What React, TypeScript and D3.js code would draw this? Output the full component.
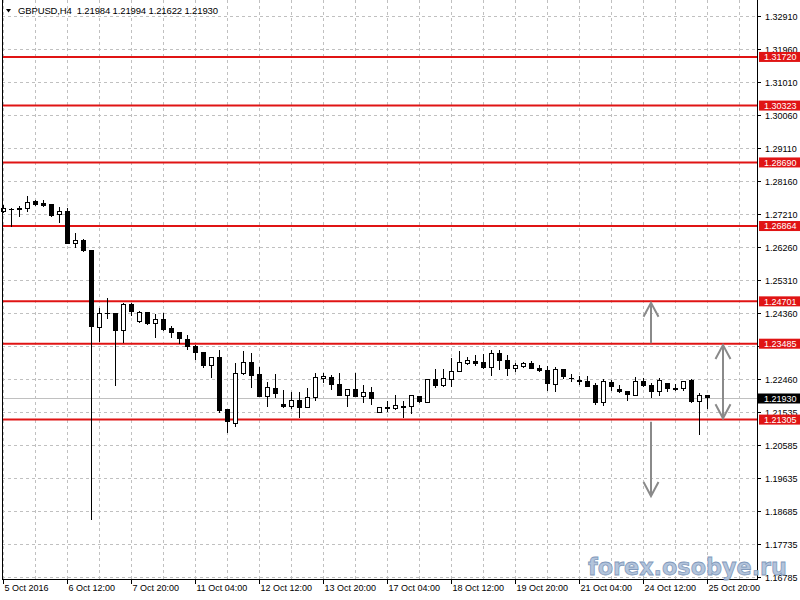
import React, { useRef, useEffect } from "react";
import * as d3 from "d3";

const width = 800;
const height = 600;
const plot = { left: 2, right: 757, bottom: 579 };
const font = "'Liberation Sans', Arial, sans-serif";

const title = "GBPUSD,H4  1.21984 1.21994 1.21622 1.21930";

// H4 bars from 5 Oct 2016 04:00 to 25 Oct 2016 20:00
const opens = [
  1.27275, 1.27353, 1.27373, 1.27373, 1.27562, 1.27516, 1.27496, 1.272, 1.27295, 1.26367,
  1.26462, 1.26175, 1.23964, 1.24366, 1.24366, 1.23857, 1.24616, 1.24116, 1.24374, 1.2407,
  1.24185, 1.23926, 1.238, 1.2361, 1.23398, 1.23237, 1.22852, 1.23093, 1.21609, 1.21198,
  1.22634, 1.2295, 1.22605, 1.21982, 1.22203, 1.21752, 1.21674, 1.21867, 1.21657, 1.21945,
  1.22491, 1.22519, 1.22327, 1.21991, 1.22174, 1.21982, 1.22088, 1.21522, 1.21666, 1.21629,
  1.21686, 1.21695, 1.21982, 1.21801, 1.22461, 1.22278, 1.22461, 1.2268, 1.2291, 1.22987,
  1.2295, 1.22795, 1.23208, 1.22996, 1.22777, 1.22843, 1.22921, 1.22777, 1.22709, 1.22327,
  1.22749, 1.2248, 1.22442, 1.22413, 1.22278, 1.21789, 1.22375, 1.22174, 1.22117, 1.2199,
  1.22413, 1.22298, 1.22117, 1.22347, 1.22186, 1.22192, 1.22421, 1.21818, 1.21984,
];
const highs = [
  1.27468, 1.27373, 1.27439, 1.27726, 1.27611, 1.27611, 1.275, 1.27419, 1.27373, 1.26672,
  1.26491, 1.2619, 1.24509, 1.24796, 1.2438, 1.24662, 1.24662, 1.24432, 1.24403, 1.24337,
  1.24357, 1.23992, 1.23805, 1.23734, 1.23447, 1.23246, 1.231, 1.23303, 1.2162, 1.22921,
  1.23274, 1.23208, 1.22823, 1.22375, 1.22605, 1.22154, 1.22088, 1.22106, 1.22203, 1.22634,
  1.22634, 1.22585, 1.22634, 1.2218, 1.22634, 1.22298, 1.22249, 1.21666, 1.21838, 1.22011,
  1.21838, 1.2201, 1.2199, 1.2247, 1.22749, 1.22749, 1.23065, 1.23283, 1.23111, 1.23159,
  1.23188, 1.23303, 1.23303, 1.23159, 1.22921, 1.2295, 1.22996, 1.22872, 1.22843, 1.22823,
  1.22755, 1.22614, 1.22565, 1.22565, 1.22347, 1.22461, 1.22442, 1.22298, 1.22125, 1.22519,
  1.2249, 1.22347, 1.2249, 1.22364, 1.22327, 1.2242, 1.22479, 1.22077, 1.21994,
];
const lows = [
  1.27229, 1.26844, 1.27114, 1.27266, 1.27447, 1.2741, 1.27131, 1.26959, 1.2636, 1.26224,
  1.26126, 1.18421, 1.23541, 1.24193, 1.22269, 1.23513, 1.2428, 1.24087, 1.24021, 1.23639,
  1.23857, 1.23639, 1.23467, 1.23303, 1.23007, 1.22795, 1.22507, 1.21503, 1.20911, 1.21101,
  1.22585, 1.22203, 1.21955, 1.21674, 1.21916, 1.21629, 1.21609, 1.21359, 1.21629, 1.21847,
  1.22364, 1.22154, 1.21985, 1.21674, 1.21955, 1.21772, 1.21723, 1.21513, 1.21522, 1.2158,
  1.21359, 1.21456, 1.21772, 1.21772, 1.22203, 1.22232, 1.22249, 1.22675, 1.22872, 1.22852,
  1.22749, 1.22565, 1.22729, 1.22565, 1.2268, 1.22777, 1.22749, 1.2268, 1.22134, 1.22105,
  1.22461, 1.22393, 1.22298, 1.22249, 1.21723, 1.21695, 1.22134, 1.22077, 1.21838, 1.21982,
  1.22232, 1.21933, 1.21982, 1.22105, 1.22134, 1.22134, 1.21772, 1.20862, 1.21622,
];
const closes = [
  1.27373, 1.27343, 1.2738, 1.27533, 1.27488, 1.27447, 1.2718, 1.27275, 1.26367, 1.26462,
  1.26175, 1.23972, 1.24366, 1.2436, 1.23857, 1.24624, 1.24403, 1.24374, 1.2407, 1.24185,
  1.23898, 1.238, 1.23639, 1.23398, 1.23225, 1.22852, 1.23093, 1.2158, 1.21244, 1.22634,
  1.2295, 1.22565, 1.21962, 1.22232, 1.22059, 1.21674, 1.21867, 1.21657, 1.21945, 1.22519,
  1.22556, 1.22318, 1.21991, 1.22174, 1.21962, 1.22088, 1.21916, 1.21657, 1.21617, 1.21715,
  1.21692, 1.22002, 1.21818, 1.22461, 1.22278, 1.2249, 1.227, 1.2295, 1.22996, 1.2293,
  1.22795, 1.23208, 1.22996, 1.22777, 1.22872, 1.22921, 1.22777, 1.22709, 1.22347, 1.22749,
  1.22548, 1.22478, 1.22413, 1.22269, 1.21789, 1.22393, 1.22269, 1.22117, 1.22031, 1.22413,
  1.22278, 1.22105, 1.22421, 1.22192, 1.2218, 1.22413, 1.21818, 1.22002, 1.2193,
];

// one label every 8 bars
const dateLabels = [
  "5 Oct 2016", "6 Oct 12:00", "7 Oct 20:00", "11 Oct 04:00", "12 Oct 12:00", "13 Oct 20:00",
  "17 Oct 04:00", "18 Oct 12:00", "19 Oct 20:00", "21 Oct 04:00", "24 Oct 12:00", "25 Oct 20:00",
];

const priceTicks = [
  "1.32910", "1.31960", "1.31010", "1.30060", "1.29110", "1.28160", "1.27210", "1.26260",
  "1.25310", "1.24360", "1.23410", "1.22460", "1.21535", "1.20585", "1.19635", "1.18685",
  "1.17735", "1.16785",
];

const levels = [1.3172, 1.30323, 1.2869, 1.26864, 1.24701, 1.23485, 1.21305];
const levelLabels = ["1.31720", "1.30323", "1.28690", "1.26864", "1.24701", "1.23485", "1.21305"];
const bid = 1.2193;

// gray arrows drawn on the chart: bar, from price, to price, head at start too
const arrowBars = [81, 90, 81];
const arrowFrom = [1.23495, 1.21342, 1.21244];
const arrowTo = [1.2466, 1.23447, 1.1911];
const arrowBoth = [false, true, false];

const App: React.FC = () => {
  const svgRef = useRef<SVGSVGElement | null>(null);

  useEffect(() => {
    if (!svgRef.current) return;
    const svg = d3.select(svgRef.current);
    svg.selectAll("*").remove();

    const n = opens.length;
    const x = d3.scaleLinear().domain([0, n - 1]).range([3.5, 3.5 + (n - 1) * 8]);
    const y = d3.scaleLinear().domain([1.16785, 1.3291]).range([577, 15.5]);

    svg.append("rect").attr("width", width).attr("height", height).attr("fill", "#fff");

    // grid
    const grid = svg.append("g").attr("stroke", "#c0c0c0").attr("stroke-dasharray", "3,3")
      .attr("shape-rendering", "crispEdges");
    for (let i = 0; i < n + 6; i += 4) {
      const gx = x(i);
      if (gx >= plot.right) break;
      grid.append("line").attr("x1", gx).attr("x2", gx).attr("y1", 0).attr("y2", plot.bottom);
    }
    priceTicks.forEach((t) => {
      const gy = Math.round(y(+t)) + 0.5;
      grid.append("line").attr("x1", plot.left).attr("x2", plot.right).attr("y1", gy).attr("y2", gy);
    });

    // bid line
    const by = Math.round(y(bid)) + 0.5;
    svg.append("line").attr("x1", plot.left).attr("x2", plot.right).attr("y1", by).attr("y2", by)
      .attr("stroke", "#c0c0c0").attr("shape-rendering", "crispEdges");

    // support / resistance lines
    levels.forEach((v) => {
      svg.append("line").attr("x1", plot.left).attr("x2", plot.right)
        .attr("y1", y(v)).attr("y2", y(v))
        .attr("stroke", "#e01414").attr("stroke-width", 2);
    });

    // candles
    const bars = svg.append("g").attr("shape-rendering", "crispEdges");
    d3.range(n).forEach((i) => {
      const cx = x(i);
      bars.append("line").attr("x1", cx).attr("x2", cx)
        .attr("y1", y(highs[i])).attr("y2", y(lows[i])).attr("stroke", "#000");
      const top = y(Math.max(opens[i], closes[i]));
      const bot = y(Math.min(opens[i], closes[i]));
      if (closes[i] >= opens[i]) {
        bars.append("rect").attr("x", cx - 2).attr("y", top)
          .attr("width", 4).attr("height", Math.max(bot - top, 1))
          .attr("fill", "#fff").attr("stroke", "#000");
      } else {
        bars.append("rect").attr("x", cx - 2.5).attr("y", top - 0.5)
          .attr("width", 5).attr("height", Math.max(bot - top + 1, 1))
          .attr("fill", "#000");
      }
    });

    // arrows
    const arrows = svg.append("g").attr("stroke", "#8a8a8a").attr("stroke-width", 2)
      .attr("fill", "none");
    arrowBars.forEach((b, k) => {
      const ax = x(b) - 0.5;
      const y0 = y(arrowFrom[k]);
      const y1 = y(arrowTo[k]);
      arrows.append("line").attr("x1", ax).attr("x2", ax).attr("y1", y0).attr("y2", y1);
      const head = (tip: number, dir: number) => {
        arrows.append("path")
          .attr("d", `M${ax - 7.5},${tip - dir * 14}L${ax},${tip}L${ax + 7.5},${tip - dir * 14}`);
      };
      head(y1, y1 > y0 ? 1 : -1);
      if (arrowBoth[k]) head(y0, y0 > y1 ? 1 : -1);
    });

    // frame + axes
    const frame = svg.append("g").attr("stroke", "#000").attr("shape-rendering", "crispEdges");
    frame.append("line").attr("x1", 2.5).attr("x2", 2.5).attr("y1", 0).attr("y2", plot.bottom + 0.5);
    frame.append("line").attr("x1", plot.right + 0.5).attr("x2", plot.right + 0.5)
      .attr("y1", 0).attr("y2", plot.bottom + 0.5);
    frame.append("line").attr("x1", plot.left).attr("x2", plot.right + 1)
      .attr("y1", plot.bottom + 0.5).attr("y2", plot.bottom + 0.5);

    const tagYs = levels.map((v) => y(v)).concat([by]);
    const yAxis = svg.append("g").attr("font-family", font).attr("font-size", 9);
    priceTicks.forEach((t) => {
      const ty = Math.round(y(+t)) + 0.5;
      frame.append("line").attr("x1", plot.right).attr("x2", plot.right + 4).attr("y1", ty).attr("y2", ty);
      // labels sitting fully under a price tag are hidden, as in the terminal
      if (tagYs.some((g) => Math.abs(g - ty) < 3.5)) return;
      yAxis.append("text").attr("x", 765).attr("y", ty + 3.2).attr("fill", "#000").text(t);
    });

    const xAxis = svg.append("g").attr("font-family", font).attr("font-size", 9);
    dateLabels.forEach((d, k) => {
      const tx = x(k * 8);
      frame.append("line").attr("x1", tx).attr("x2", tx).attr("y1", plot.bottom).attr("y2", plot.bottom + 5);
      xAxis.append("text").attr("x", tx + 1).attr("y", 591).attr("fill", "#000").text(d);
    });

    // price tags
    levels.forEach((v, k) => {
      const ty = y(v);
      svg.append("rect").attr("x", 759).attr("y", ty - 5).attr("width", 41).attr("height", 10)
        .attr("fill", "#e01414");
      svg.append("text").attr("x", 764).attr("y", ty + 3.2).attr("fill", "#fff")
        .attr("font-family", font).attr("font-size", 9).text(levelLabels[k]);
    });
    svg.append("rect").attr("x", 758).attr("y", by - 5).attr("width", 42).attr("height", 10)
      .attr("fill", "#000");
    svg.append("text").attr("x", 764).attr("y", by + 3.2).attr("fill", "#fff")
      .attr("font-family", font).attr("font-size", 9).text(d3.format(".5f")(bid));

    // title
    svg.append("path").attr("d", "M6,9L11,9L8.5,12.5Z").attr("fill", "#000");
    svg.append("text").attr("x", 18).attr("y", 14).attr("font-family", font).attr("font-size", 9.5)
      .attr("textLength", 200).attr("lengthAdjust", "spacing")
      .attr("fill", "#000").text(title).attr("xml:space", "preserve").style("white-space", "pre");

    // watermark
    svg.append("text").attr("x", 588).attr("y", 575)
      .attr("font-family", "'DejaVu Sans', Verdana, sans-serif").attr("font-weight", "bold")
      .attr("font-size", 23).attr("textLength", 199).attr("lengthAdjust", "spacingAndGlyphs")
      .attr("fill", "#a9bcd6").attr("fill-opacity", 0.9)
      .attr("stroke", "#8199bb").attr("stroke-width", 0.8)
      .text("forex.osobye.ru");
  }, []);

  return (
    <svg
      ref={svgRef}
      width={width}
      height={height}
      style={{ position: "absolute", left: 0, top: 0 }}
    />
  );
};

export default App;
